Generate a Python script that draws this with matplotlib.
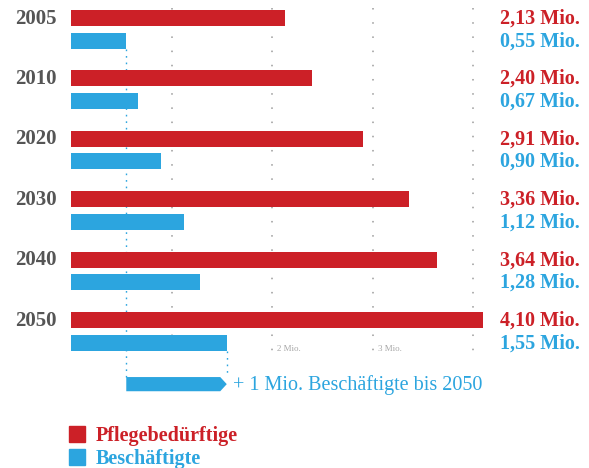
import matplotlib
matplotlib.use("Agg")
import matplotlib.pyplot as plt
from matplotlib.patches import FancyArrow, Patch

# data (Mio.)
years = ["2005", "2010", "2020", "2030", "2040", "2050"]
pflege = [2.13, 2.40, 2.91, 3.36, 3.64, 4.10]
beschaeftigte = [0.55, 0.67, 0.90, 1.12, 1.28, 1.55]
grid_ticks = [1, 2, 3, 4]
tick_labels = {2: "2 Mio.", 3: "3 Mio."}

RED = "#cc2027"
BLUE = "#2ca5df"
GRAY = "#555555"

plt.rcParams["font.family"] = ["Liberation Serif", "DejaVu Serif"]

fig = plt.figure(figsize=(5.89, 4.68), dpi=100)
ax = fig.add_axes([0, 0, 1, 1])
ax.set_xlim(-71 / 100.5, (589 - 71) / 100.5)
ax.set_ylim(468 / 60.4, 0)
ax.axis("off")

rows = range(len(years))
y_red = [0.298 + i for i in rows]
y_blue = [0.672 + i for i in rows]
h = 0.265
dy = -0.03  # small text nudge

# dotted grid
ax.vlines(grid_ticks, 0.13, 5.83, colors="#b0b0b0", lw=1.4,
          linestyles=(0, (0.8, 6.5)), zorder=1)
for x, lab in tick_labels.items():
    ax.text(x + 0.05, 5.78, lab, fontsize=6.5, color="#a8a8a8", va="center")

# blue dotted helper lines
ax.vlines(beschaeftigte[0], y_blue[0] + h / 2, 6.24, colors=BLUE, lw=1,
          linestyles=(0, (1.2, 3.5)), zorder=1)
ax.vlines(beschaeftigte[-1], y_blue[-1] + h / 2, 6.24, colors=BLUE, lw=1,
          linestyles=(0, (1.2, 3.5)), zorder=1)

ax.barh(y_red, pflege, height=h, color=RED, zorder=2)
ax.barh(y_blue, beschaeftigte, height=h, color=BLUE, zorder=2)

for i in rows:
    ax.text(-0.14, y_red[i] + dy, years[i], ha="right", va="center_baseline",
            fontsize=15, fontweight="bold", color=GRAY)
    ax.text(4.27, y_red[i] + dy, f"{pflege[i]:.2f}".replace(".", ",") + " Mio.",
            ha="left", va="center_baseline", fontsize=14.5, fontweight="bold", color=RED)
    ax.text(4.27, y_blue[i] + dy, f"{beschaeftigte[i]:.2f}".replace(".", ",") + " Mio.",
            ha="left", va="center_baseline", fontsize=14.5, fontweight="bold", color=BLUE)

# arrow: +1 Mio.
diff = beschaeftigte[-1] - beschaeftigte[0]
ax.add_patch(FancyArrow(beschaeftigte[0], 6.36, diff, 0, width=0.235,
                        head_width=0.235, head_length=0.065,
                        length_includes_head=True, color=BLUE, lw=0))
ax.text(beschaeftigte[-1] + 0.06, 6.36 + dy, "+ 1 Mio. Beschäftigte bis 2050",
        ha="left", va="center_baseline", fontsize=14.5, color=BLUE)

handles = [Patch(color=RED), Patch(color=BLUE)]
leg = ax.legend(handles, ["Pflegebedürftige", "Beschäftigte"],
                loc="upper left", bbox_to_anchor=(0.117, 0.09),
                frameon=False, borderpad=0, borderaxespad=0,
                handlelength=0.8, handleheight=0.8, handletextpad=0.55,
                labelspacing=0.15, prop={"size": 14.5, "weight": "bold"})
for t, c in zip(leg.get_texts(), [RED, BLUE]):
    t.set_color(c)

fig.savefig("out.png", dpi=100)
